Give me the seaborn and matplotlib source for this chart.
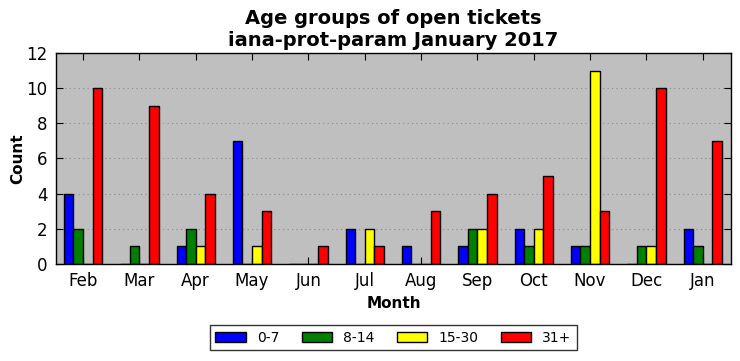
import pandas as pd
import matplotlib
matplotlib.use("Agg")
import matplotlib.pyplot as plt
import seaborn as sns

# =========================
# DATA
# =========================

months = ["Feb", "Mar", "Apr", "May", "Jun", "Jul",
          "Aug", "Sep", "Oct", "Nov", "Dec", "Jan"]
groups = ["0-7", "8-14", "15-30", "31+"]

age_0_7 = [4, 0, 1, 7, 0, 2, 1, 1, 2, 1, 0, 2]
age_8_14 = [2, 1, 2, 0, 0, 0, 0, 2, 1, 1, 1, 1]
age_15_30 = [0, 0, 1, 1, 0, 2, 0, 2, 2, 11, 1, 0]
age_31 = [10, 9, 4, 3, 1, 1, 3, 4, 5, 3, 10, 7]

colors = ["blue", "green", "yellow", "red"]

df = pd.DataFrame({
    "Month": months * 4,
    "Group": sum([[g] * len(months) for g in groups], []),
    "Count": age_0_7 + age_8_14 + age_15_30 + age_31,
})

# =========================
# PLOT
# =========================

sns.set_style("ticks")
plt.rcParams["font.family"] = ["DejaVu Sans"]
plt.rcParams["text.color"] = "black"
plt.rcParams["axes.labelcolor"] = "black"
plt.rcParams["xtick.color"] = "black"
plt.rcParams["ytick.color"] = "black"

fig = plt.figure(figsize=(7.4, 3.61), dpi=100)
ax = fig.add_axes([0.0757, 0.269, 0.912, 0.584])

sns.barplot(
    data=df,
    x="Month",
    y="Count",
    hue="Group",
    order=months,
    hue_order=groups,
    palette=colors,
    width=0.68,
    edgecolor="black",
    linewidth=1,
    saturation=1,
    ax=ax,
)

ax.set_facecolor("#bfbfbf")
ax.set_ylim(0, 12)
ax.set_xlim(-0.48, 11.5)
ax.set_yticks(range(0, 13, 2))
ax.yaxis.grid(True, linestyle=(0, (1, 3)), color="#8c8c8c", linewidth=0.8)
ax.set_axisbelow(True)
for s in ax.spines.values():
    s.set_linewidth(1)
    s.set_color("black")
ax.tick_params(direction="in", top=True, right=True, length=5,
               labelsize=12, pad=6)

ax.set_title("Age groups of open tickets\niana-prot-param January 2017",
             fontsize=14, fontweight="bold", color="black", pad=5)
ax.set_xlabel("Month", fontsize=11, fontweight="bold")
ax.set_ylabel("Count", fontsize=11, fontweight="bold", labelpad=1)

ax.legend(
    loc="upper center",
    bbox_to_anchor=(0.5, -0.29),
    borderaxespad=0,
    ncol=4,
    frameon=True,
    fancybox=False,
    edgecolor="black",
    fontsize=10,
    handlelength=2.2,
    handletextpad=0.8,
    columnspacing=1.6,
)

fig.savefig("out.png", dpi=100)
